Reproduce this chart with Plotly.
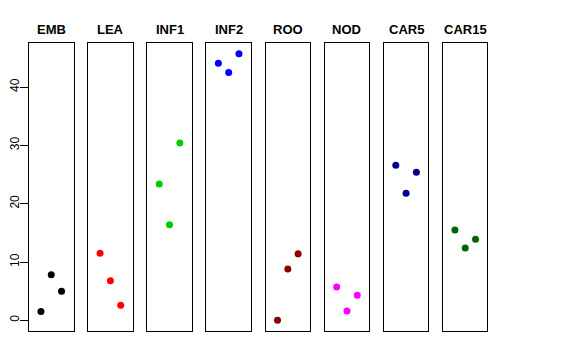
import plotly.graph_objects as go

categories = ["EMB", "LEA", "INF1", "INF2", "ROO", "NOD", "CAR5", "CAR15"]
colors = ["#000000", "#FF0000", "#00CD00", "#0000FF", "#8B0000", "#FF00FF", "#00008B", "#006400"]
reps = [1, 2, 3]
EMB = [1.5, 7.8, 5.0]
LEA = [11.5, 6.8, 2.6]
INF1 = [23.4, 16.4, 30.4]
INF2 = [44.1, 42.5, 45.7]
ROO = [0.0, 8.8, 11.4]
NOD = [5.7, 1.6, 4.3]
CAR5 = [26.6, 21.8, 25.4]
CAR15 = [15.5, 12.4, 13.9]
values = [EMB, LEA, INF1, INF2, ROO, NOD, CAR5, CAR15]
y_ticks = [0, 10, 20, 30, 40]

W, H = 576, 360
OFF = 8  # page body margin offset
left0, step, pw = 29.0 - OFF, 59.14, 44.5
top_px, bot_px = 43.0 - OFF, 330.7 - OFF
title_px = 29.0 - OFF

fig = go.Figure()
layout = dict(
    width=W, height=H, margin=dict(l=0, r=0, t=0, b=0),
    paper_bgcolor="white", plot_bgcolor="white", showlegend=False,
    font=dict(family="Liberation Sans, Arial, sans-serif", color="black"),
)
annotations = []
for i, (cat, col, vals) in enumerate(zip(categories, colors, values)):
    n = i + 1
    xa = "x" if n == 1 else f"x{n}"
    ya = "y" if n == 1 else f"y{n}"
    fig.add_trace(go.Scatter(x=reps, y=vals, mode="markers", xaxis=xa, yaxis=ya,
                             marker=dict(color=col, size=7, line=dict(width=0)),
                             hoverinfo="skip"))
    l = left0 + step * i
    xd = [l / W, (l + pw) / W]
    yd = [(H - bot_px) / H, (H - top_px) / H]
    layout[f"xaxis{'' if n == 1 else n}"] = dict(
        domain=xd, range=[-0.16, 4.16], anchor=ya, showgrid=False, zeroline=False,
        showticklabels=False, ticks="", showline=True, mirror=True,
        linecolor="black", linewidth=1, fixedrange=True)
    ydict = dict(
        domain=yd, range=[-1.78, 47.56], anchor=xa, showgrid=False, zeroline=False,
        showline=True, mirror=True, linecolor="black", linewidth=1, fixedrange=True)
    if n == 1:
        ydict.update(ticks="outside", ticklen=8, tickcolor="black", tickwidth=1,
                     tickvals=y_ticks, ticktext=[str(t) for t in y_ticks],
                     tickangle=-90, tickfont=dict(size=12, color="black"),
                     ticklabelstandoff=-4,
                     showticklabels=True, automargin=False)
    else:
        ydict.update(showticklabels=False, ticks="")
    layout[f"yaxis{'' if n == 1 else n}"] = ydict
    annotations.append(dict(
        text=f"<b>{cat}</b>", x=(l + pw / 2) / W, y=(H - title_px) / H,
        xref="paper", yref="paper", showarrow=False, xanchor="center", yanchor="middle",
        font=dict(size=13, color="black", family="Liberation Sans, Arial, sans-serif")))
layout["annotations"] = annotations
fig.update_layout(**layout)
fig.write_html("out.html")
